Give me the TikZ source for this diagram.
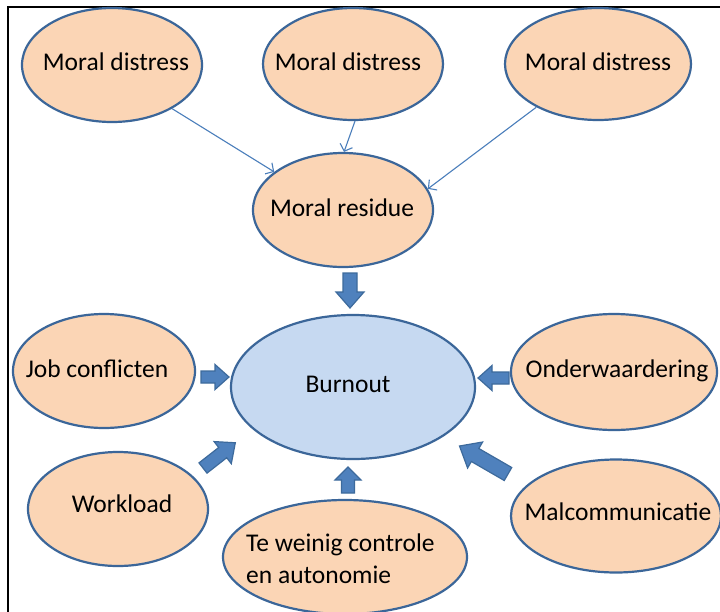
\documentclass[tikz,border=0pt]{standalone}
\usepackage{fontspec}
\setmainfont{Carlito}
\usetikzlibrary{shapes.geometric,arrows.meta}
\definecolor{peach}{HTML}{FBD5B5}
\definecolor{lightblue}{HTML}{C6D9F1}
\definecolor{edgeblue}{HTML}{3B6699}
\definecolor{arrowblue}{HTML}{4F81BD}
\definecolor{arrowedge}{HTML}{3D6A9C}
\definecolor{thinblue}{HTML}{4A7EBB}
\tikzset{
  oval/.style={ellipse, draw=edgeblue, line width=2.2pt, fill=peach, inner sep=0pt},
  burnoval/.style={oval, fill=lightblue},
  txt/.style={anchor=base, inner sep=0pt, font=\fontsize{25.5}{32}\selectfont},
  thinarrow/.style={draw=thinblue, line width=1.1pt, -{Straight Barb[length=6pt,width=13pt]}},
  blockarrow/.style={fill=arrowblue, draw=arrowedge, line width=1.2pt, line join=miter},
  framestyle/.style={draw=black, line width=2pt}
}
% #1 tail coordinate, #2 angle, #3 length, #4 shaft half width, #5 head half width, #6 head length
\newcommand\blockarr[6]{%
  \begin{scope}[shift={(#1)}, rotate=#2]
    \draw[blockarrow] (0,-#4) -- ({#3-#6},-#4) -- ({#3-#6},-#5) -- (#3,0)
      -- ({#3-#6},#5) -- ({#3-#6},#4) -- (0,#4) -- cycle;
  \end{scope}}
\begin{document}
\begin{tikzpicture}[x=1pt,y=1pt]
  \clip (0,0) rectangle (720,-611);
  \fill[white] (0,0) rectangle (720,-611);
  \draw[framestyle] (8,-640) -- (8,-7) -- (760,-7);

  % ellipses
  \node[oval, minimum width=180pt, minimum height=114pt] (md1) at (112,-65) {};
  \node[oval, minimum width=180pt, minimum height=112pt] (md2) at (353,-64) {};
  \node[oval, minimum width=186pt, minimum height=112pt] (md3) at (598,-64) {};
  \node[oval, minimum width=180pt, minimum height=114pt] (res) at (343,-210) {};
  \node[burnoval, minimum width=244pt, minimum height=144pt] (burn) at (353,-387) {};
  \node[oval, minimum width=182pt, minimum height=114pt] (job) at (104,-371) {};
  \node[oval, minimum width=206pt, minimum height=116pt] (onder) at (614,-372) {};
  \node[oval, minimum width=180pt, minimum height=114pt] (work) at (118,-509) {};
  \node[oval, minimum width=244pt, minimum height=114pt] (tew) at (345,-557) {};
  \node[oval, minimum width=210pt, minimum height=113pt] (mal) at (616,-516) {};

  % texts
  \node[txt] (tmd1) at (116,-70) {Moral distress};
  \node[txt] (tmd2) at (348,-70) {Moral distress};
  \node[txt] (tmd3) at (598,-70) {Moral distress};
  \node[txt] (tres) at (342,-216) {Moral residue};
  \node[txt] (tburn) at (348,-392) {Burnout};
  \node[txt] (tjob) at (97,-377) {Job conflicten};
  \node[txt] (tonder) at (617,-377) {Onderwaardering};
  \node[txt] (twork) at (122,-512) {Workload};
  \node[txt, anchor=base west, align=left] (ttew) at (246,-583) {Te weinig controle\\en autonomie};
  \node[txt] (tmal) at (618,-520) {Malcommunicatie};

  % thin arrows
  \draw[thinarrow] (md1.324) -- (res.151);
  \draw[thinarrow] (md2.272) -- (res.89);
  \draw[thinarrow] (md3.215) -- (res.14);

  % block arrows
  \coordinate (a1) at (350,-273);
  \coordinate (a2) at (201,-377);
  \coordinate (a3) at (509,-378);
  \coordinate (a4) at (203,-468);
  \coordinate (a5) at (348,-493);
  \coordinate (a6) at (508,-474);
  \blockarr{a1}{-90}{35}{7}{14}{16}
  \blockarr{a2}{0}{28}{6}{12.5}{14}
  \blockarr{a3}{180}{31}{6}{12.5}{14}
  \blockarr{a4}{38}{41}{6.5}{14}{16}
  \blockarr{a5}{90}{26}{6.5}{13}{13}
  \blockarr{a6}{150}{56}{7.5}{15}{18}
\end{tikzpicture}
\end{document}
